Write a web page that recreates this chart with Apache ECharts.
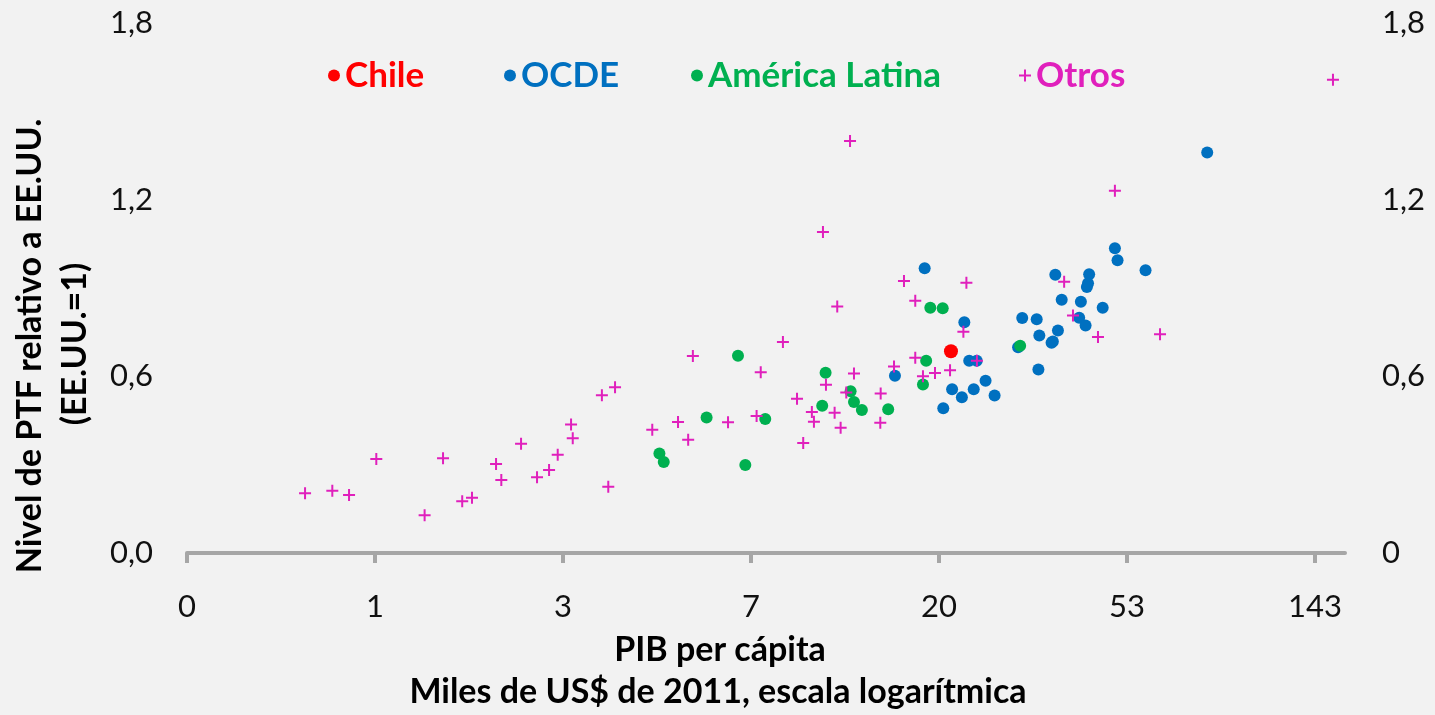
<!DOCTYPE html>
<html>
<head>
<meta charset="utf-8">
<script src="https://cdn.jsdelivr.net/npm/echarts@6/dist/echarts.min.js"></script>
<style>
  html, body { margin: 0; padding: 0; background: #f2f2f2; }
  #chart { width: 1435px; height: 715px; }
</style>
</head>
<body>
<div id="chart"></div>
<script>
// x: PIB per cápita en escala log (base 2,7) -> -1 = 0,37 mil, 0 = 1 mil, 1 = 2,7 mil ...
// y: nivel de PTF relativo a EE.UU.
const xTickValues = [-1, 0, 1, 2, 3, 4, 5];
const xTickLabels = ['0', '1', '3', '7', '20', '53', '143'];
const yLeftLabels = ['0,0', '0,6', '1,2', '1,8'];
const yRightLabels = ['0', '0,6', '1,2', '1,8'];

const chilePts = [[3.064, 0.685]];

const ocdePts = [
  [2.766, 0.602], [2.924, 0.967], [3.135, 0.784], [3.161, 0.653], [3.201, 0.653],
  [3.070, 0.556], [3.122, 0.529], [3.185, 0.556], [3.248, 0.585], [3.296, 0.535],
  [3.023, 0.492], [3.421, 0.699], [3.443, 0.798], [3.520, 0.794], [3.534, 0.739],
  [3.529, 0.623], [3.599, 0.714], [3.606, 0.718], [3.633, 0.756], [3.619, 0.945],
  [3.653, 0.860], [3.755, 0.853], [3.746, 0.799], [3.780, 0.773], [3.799, 0.947],
  [3.793, 0.916], [3.787, 0.903], [3.871, 0.833], [3.936, 1.035], [3.950, 0.994],
  [4.099, 0.960], [4.427, 1.360]
];

const latamPts = [
  [1.513, 0.338], [1.536, 0.309], [1.764, 0.460], [1.931, 0.670], [1.970, 0.299],
  [2.076, 0.455], [2.379, 0.500], [2.397, 0.612], [2.530, 0.549], [2.548, 0.513],
  [2.590, 0.486], [2.730, 0.488], [2.954, 0.833], [3.020, 0.831], [2.932, 0.653],
  [2.915, 0.572], [3.432, 0.704]
];

const otrosPts = [
  [-0.372, 0.203], [-0.227, 0.211], [-0.138, 0.197], [0.007, 0.319], [0.264, 0.128],
  [0.362, 0.322], [0.464, 0.176], [0.516, 0.188], [0.644, 0.302], [0.672, 0.248],
  [0.777, 0.371], [0.862, 0.257], [0.926, 0.282], [0.972, 0.334], [1.043, 0.436],
  [1.052, 0.390], [1.207, 0.536], [1.277, 0.563], [1.241, 0.225], [1.475, 0.419],
  [1.612, 0.445], [1.666, 0.385], [1.691, 0.669], [1.878, 0.444], [2.030, 0.465],
  [2.052, 0.614], [2.170, 0.717], [2.245, 0.524], [2.278, 0.374], [2.324, 0.479],
  [2.335, 0.446], [2.399, 0.571], [2.459, 0.837], [2.445, 0.476], [2.477, 0.425],
  [2.507, 0.545], [2.548, 0.610], [2.690, 0.542], [2.688, 0.442], [2.761, 0.633],
  [2.814, 0.924], [2.874, 0.857], [3.146, 0.918], [2.874, 0.663], [2.915, 0.600],
  [2.979, 0.611], [3.059, 0.621], [3.130, 0.751], [3.202, 0.653], [3.666, 0.921],
  [3.713, 0.807], [3.846, 0.734], [3.936, 1.230], [4.176, 0.743], [5.096, 1.607],
  [2.527, 1.399], [2.383, 1.090]
];

const RED = '#ff0000';
const BLUE = '#0070c0';
const GREEN = '#00b050';
const PINK = '#e020bc';
const FONT = 'Lato, "Open Sans", sans-serif';
const PLUS = 'path://M5,0H7V5H12V7H7V12H5V7H0V5H5Z';

// one legend block per entry so each sits where the original put it
function legendAt(name, left, color, icon) {
  return {
    top: 58,
    left: left,
    padding: 0,
    itemWidth: 12,
    itemHeight: 12,
    icon: icon,
    textStyle: { fontFamily: FONT, fontSize: 35, fontWeight: 'bold', color: color },
    data: [name]
  };
}

const chart = echarts.init(document.getElementById('chart'));

chart.setOption({
  backgroundColor: '#f2f2f2',
  textStyle: { fontFamily: FONT },
  animation: false,
  grid: { left: 187, right: 90, top: 23, bottom: 162, containLabel: false },
  legend: [
    legendAt('Chile', 328, RED, 'circle'),
    legendAt('OCDE', 504, BLUE, 'circle'),
    legendAt('América Latina', 691, GREEN, 'circle'),
    legendAt('Otros', 1019, PINK, PLUS)
  ],
  xAxis: {
    type: 'value',
    min: -1,
    max: 5.16,
    splitLine: { show: false },
    axisLine: { onZero: false, lineStyle: { color: '#a6a6a6', width: 4 } },
    axisTick: { customValues: xTickValues, length: 10, lineStyle: { color: '#a6a6a6', width: 4 } },
    axisLabel: {
      customValues: xTickValues,
      margin: 38,
      fontSize: 31,
      color: '#111',
      fontFamily: FONT,
      formatter: (v) => xTickLabels[xTickValues.indexOf(Math.round(v))] ?? ''
    }
  },
  yAxis: [
    {
      type: 'value',
      position: 'left',
      min: 0,
      max: 1.8,
      interval: 0.6,
      splitLine: { show: false },
      axisLine: { show: false, onZero: false },
      axisTick: { show: false },
      axisLabel: {
        margin: 34, fontSize: 31, color: '#111', fontFamily: FONT,
        formatter: (v) => yLeftLabels[Math.round(v / 0.6)]
      }
    },
    {
      type: 'value',
      position: 'right',
      min: 0,
      max: 1.8,
      interval: 0.6,
      splitLine: { show: false },
      axisLine: { show: false, onZero: false },
      axisTick: { show: false },
      axisLabel: {
        margin: 37, fontSize: 31, color: '#111', fontFamily: FONT,
        formatter: (v) => yRightLabels[Math.round(v / 0.6)]
      }
    }
  ],
  graphic: [
    {
      type: 'text', x: 720, y: 650,
      style: { text: 'PIB per cápita', font: 'bold 34px ' + FONT, fill: '#000', textAlign: 'center', textVerticalAlign: 'middle' }
    },
    {
      type: 'text', x: 718, y: 692,
      style: { text: 'Miles de US$ de 2011, escala logarítmica', font: 'bold 34px ' + FONT, fill: '#000', textAlign: 'center', textVerticalAlign: 'middle' }
    },
    {
      type: 'text', x: 30, y: 346, rotation: Math.PI / 2,
      style: { text: 'Nivel de PTF relativo a EE.UU.', font: 'bold 34px ' + FONT, fill: '#000', textAlign: 'center', textVerticalAlign: 'middle' }
    },
    {
      type: 'text', x: 75, y: 344, rotation: Math.PI / 2,
      style: { text: '(EE.UU.=1)', font: 'bold 34px ' + FONT, fill: '#000', textAlign: 'center', textVerticalAlign: 'middle' }
    }
  ],
  series: [
    { name: 'Chile', type: 'scatter', symbol: 'circle', symbolSize: 14, itemStyle: { color: RED, opacity: 1 }, data: chilePts, z: 5 },
    { name: 'OCDE', type: 'scatter', symbol: 'circle', symbolSize: 12, itemStyle: { color: BLUE, opacity: 1 }, data: ocdePts, z: 2 },
    { name: 'América Latina', type: 'scatter', symbol: 'circle', symbolSize: 12, itemStyle: { color: GREEN, opacity: 1 }, data: latamPts, z: 3 },
    { name: 'Otros', type: 'scatter', symbol: PLUS, symbolSize: 12, itemStyle: { color: PINK, opacity: 1 }, data: otrosPts, z: 4 }
  ]
});
</script>
</body>
</html>
